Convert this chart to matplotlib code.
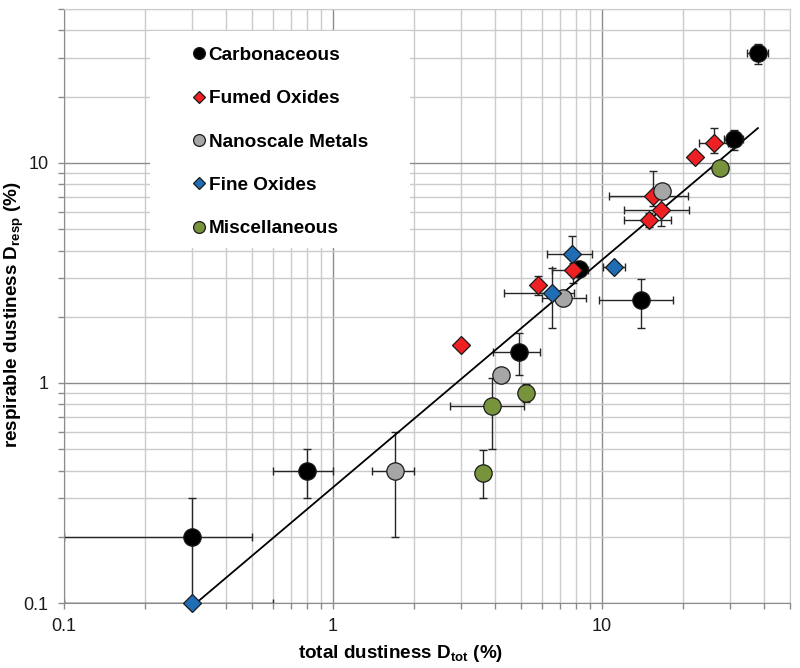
import numpy as np
import matplotlib
matplotlib.use('Agg')
import matplotlib.pyplot as plt
from matplotlib.lines import Line2D
from matplotlib.patches import Rectangle
from matplotlib.ticker import LogLocator, FuncFormatter, NullFormatter

plt.rcParams['font.family'] = ['Liberation Sans', 'DejaVu Sans']
plt.rcParams['mathtext.fontset'] = 'custom'
plt.rcParams['mathtext.rm'] = 'Liberation Sans'
plt.rcParams['mathtext.bf'] = 'Liberation Sans:bold'

# ── data (bounds of the error bars, value where no bar) ─────────
carb_x    = [0.30, 0.80, 4.90, 14.0, 8.20, 31.0, 38.0]
carb_y    = [0.20, 0.40, 1.38, 2.38, 3.28, 12.8, 31.5]
carb_xlo  = [0.10, 0.60, 3.94, 9.75, 8.20, 28.5, 34.7]
carb_xhi  = [0.50, 1.00, 5.88, 18.3, 8.20, 33.4, 41.5]
carb_ylo  = [0.10, 0.30, 1.09, 1.78, 3.28, 11.4, 28.3]
carb_yhi  = [0.30, 0.50, 1.69, 2.96, 3.28, 14.1, 34.6]

fumed_x   = [3.00, 5.80, 7.78, 15.5, 16.6, 14.9, 22.2, 26.1]
fumed_y   = [1.49, 2.78, 3.25, 7.10, 6.11, 5.51, 10.6, 12.3]
fumed_xlo = [3.00, 5.80, 6.50, 10.6, 12.1, 12.1, 22.2, 23.0]
fumed_xhi = [3.00, 5.80, 8.90, 20.8, 21.1, 18.0, 22.2, 29.5]
fumed_ylo = [1.49, 2.51, 2.85, 6.40, 5.17, 5.12, 10.6, 11.1]
fumed_yhi = [1.49, 3.06, 3.50, 9.20, 7.00, 5.90, 10.6, 14.4]

nano_x    = [1.70, 4.21, 7.18, 16.75]
nano_y    = [0.40, 1.09, 2.44, 7.46]
nano_xlo  = [1.40, 4.21, 6.00, 16.75]
nano_xhi  = [2.00, 4.21, 8.72, 16.75]
nano_ylo  = [0.20, 1.09, 2.44, 7.46]
nano_yhi  = [0.60, 1.09, 2.44, 7.46]

fine_x    = [0.30, 6.50, 7.72, 11.1]
fine_y    = [0.10, 2.57, 3.85, 3.38]
fine_xlo  = [0.10, 4.32, 6.23, 10.1]
fine_xhi  = [0.60, 7.90, 9.20, 12.2]
fine_ylo  = [0.10, 1.78, 3.40, 3.38]
fine_yhi  = [0.10, 3.34, 4.66, 3.38]

misc_x    = [3.62, 3.91, 5.22, 27.5]
misc_y    = [0.391, 0.786, 0.898, 9.46]
misc_xlo  = [3.40, 2.72, 4.93, 27.5]
misc_xhi  = [3.85, 5.13, 5.55, 27.5]
misc_ylo  = [0.30, 0.50, 0.82, 9.46]
misc_yhi  = [0.494, 1.05, 0.99, 9.46]

fit_x = [0.31, 38.0]
fit_y = [0.10, 14.4]

SERIES = [
    ('Carbonaceous',     'o', '#000000', 12.5, 8.5,
     carb_x, carb_y, carb_xlo, carb_xhi, carb_ylo, carb_yhi),
    ('Fumed Oxides',     'D', '#EE2024', 9.3, 6.0,
     fumed_x, fumed_y, fumed_xlo, fumed_xhi, fumed_ylo, fumed_yhi),
    ('Nanoscale Metals', 'o', '#A6A6A6', 12.5, 8.5,
     nano_x, nano_y, nano_xlo, nano_xhi, nano_ylo, nano_yhi),
    ('Fine Oxides',      'D', '#1F6EB5', 9.3, 6.0,
     fine_x, fine_y, fine_xlo, fine_xhi, fine_ylo, fine_yhi),
    ('Miscellaneous',    'o', '#77933C', 12.5, 8.5,
     misc_x, misc_y, misc_xlo, misc_xhi, misc_ylo, misc_yhi),
]

fig = plt.figure(figsize=(8, 6.68), dpi=100)
ax = fig.add_axes([0.08, 0.0973, 0.9075, 0.889])
ax.set_xscale('log'); ax.set_yscale('log')
ax.set_xlim(0.1, 50); ax.set_ylim(0.1, 50)
ax.set_axisbelow(True)

for axis in (ax.xaxis, ax.yaxis):
    axis.set_major_locator(LogLocator(base=10, subs=(1.0,)))
    axis.set_minor_locator(LogLocator(base=10, subs=np.arange(2, 10)))
    axis.set_major_formatter(FuncFormatter(lambda v, p: f'{v:g}'))
    axis.set_minor_formatter(NullFormatter())
ax.grid(which='major', color='#8C8C8C', lw=1.0)
ax.grid(which='minor', color='#CBCBCB', lw=1.0)
ax.tick_params(which='both', direction='out', length=4, width=1,
               color='#8C8C8C', labelsize=13, labelcolor='#1A1A1A', pad=7)
for s in ('left', 'bottom'):
    ax.spines[s].set_color('#8C8C8C')
for s in ('top', 'right'):
    ax.spines[s].set_color('#CBCBCB')

# white box behind the legend
ax.add_patch(Rectangle((0.118, 0.598), 0.358, 0.365, transform=ax.transAxes,
                       facecolor='white', edgecolor='none', zorder=1))

ax.plot(fit_x, fit_y, color='black', lw=1.3, zorder=2.5)

handles = []
for label, mk, col, ms, lms, x, y, xlo, xhi, ylo, yhi in SERIES:
    x = np.array(x); y = np.array(y)
    xerr = [x - np.array(xlo), np.array(xhi) - x]
    yerr = [y - np.array(ylo), np.array(yhi) - y]
    ax.errorbar(x, y, xerr=xerr, yerr=yerr, fmt='none', ecolor='#262626',
                elinewidth=1.0, capsize=3.2, capthick=1.0, zorder=2)
    ax.plot(x, y, ls='none', marker=mk, ms=ms, mfc=col, mec='#1A1A1A',
            mew=0.9, zorder=3, clip_on=False)
    handles.append(Line2D([], [], ls='none', marker=mk, ms=lms, mfc=col,
                          mec='#1A1A1A', mew=0.9, label=label))

ax.legend(handles=handles, loc='upper left', bbox_to_anchor=(0.177, 0.937),
          frameon=False, borderpad=0, borderaxespad=0, handlelength=0.65,
          handletextpad=0.2, labelspacing=1.37,
          prop={'family': 'Liberation Sans', 'weight': 'bold', 'size': 13.7})

ax.set_xlabel(r'total dustiness D$_{\mathbf{tot}}$ (%)', fontsize=13.6,
              fontweight='bold')
ax.xaxis.set_label_coords(0.463, -0.068)
ax.set_ylabel(r'respirable dustiness D$_{\mathbf{resp}}$ (%)', fontsize=13.6,
              fontweight='bold')
ax.yaxis.set_label_coords(-0.052, 0.485)

fig.savefig('out.png', dpi=100, facecolor='white')
